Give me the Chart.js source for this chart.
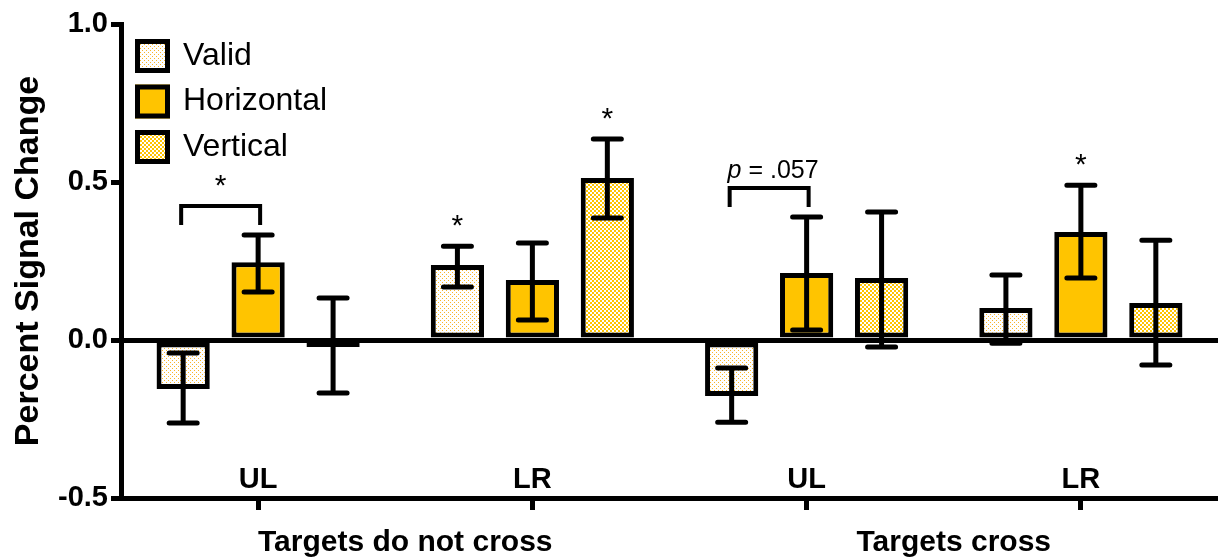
<!DOCTYPE html>
<html>
<head>
<meta charset="utf-8">
<script src="https://cdn.jsdelivr.net/npm/chart.js@4"></script>
<style>
  html, body { margin: 0; padding: 0; background: #fff; }
  #myChart { display: block; }
</style>
</head>
<body>
<canvas id="myChart" width="1218" height="559"></canvas>
<script>
// Data
const groups = ["UL", "LR", "UL", "LR"];
const groupSets = ["Targets do not cross", "Targets cross"];
const seriesNames = ["Valid", "Horizontal", "Vertical"];

const validMean = [-0.155, 0.237, -0.177, 0.101];
const validLow = [-0.263, 0.168, -0.26, -0.01];
const validHigh = [-0.041, 0.297, -0.089, 0.206];

const horizMean = [0.246, 0.19, 0.212, 0.342];
const horizLow = [0.152, 0.063, 0.032, 0.196];
const horizHigh = [0.332, 0.307, 0.389, 0.49];

const vertMean = [-0.022, 0.513, 0.196, 0.117];
const vertLow = [-0.168, 0.386, -0.022, -0.079];
const vertHigh = [0.133, 0.636, 0.405, 0.316];

const yTicks = [-0.5, 0.0, 0.5, 1.0];

// [group, series] that get a star above the error bar
const starMarks = [[1, 0], [1, 2], [3, 1]];
// brackets between Valid and Horizontal: group, label
const bracketGroups = [0, 2];
const bracketLabels = ["*", "p = .057"];

const gold = "#FFC400";
const font = "'Liberation Sans', Arial, sans-serif";
const ctx = document.querySelector("#myChart");

// Fill patterns
function makePattern(kind) {
    const c = document.createElement("canvas");
    const n = kind === "dots" ? 4 : 4;
    c.width = n; c.height = n;
    const g = c.getContext("2d");
    g.fillStyle = "#fff";
    g.fillRect(0, 0, n, n);
    if (kind === "dots") {
        g.fillStyle = "#F8B52A";
        g.fillRect(0, 0, 1, 1);
        g.fillRect(2, 2, 1, 1);
    } else {
        g.fillStyle = gold;
        g.fillRect(0, 0, 2, 2);
        g.fillRect(2, 2, 2, 2);
    }
    return g.createPattern(c, "repeat");
}
const dotFill = makePattern("dots");
const checkFill = makePattern("check");

// Error bars, stars, brackets, labels and legend
const extras = {
    id: "extras",
    afterDatasetsDraw(chart) {
        const c = chart.ctx;
        const y = chart.scales.y;
        const x = chart.scales.x;
        const area = chart.chartArea;

        c.save();
        c.strokeStyle = "#000";
        c.lineWidth = 5;
        c.lineCap = "round";

        // error bars
        chart.data.datasets.forEach((ds, i) => {
            chart.getDatasetMeta(i).data.forEach((bar, j) => {
                const lo = y.getPixelForValue(ds.errLow[j]);
                const hi = y.getPixelForValue(ds.errHigh[j]);
                c.beginPath();
                c.moveTo(bar.x, lo); c.lineTo(bar.x, hi);
                c.moveTo(bar.x - 14, lo); c.lineTo(bar.x + 14, lo);
                c.moveTo(bar.x - 14, hi); c.lineTo(bar.x + 14, hi);
                c.stroke();
            });
        });

        c.fillStyle = "#000";
        c.textAlign = "center";

        // stars
        c.font = "30px " + font;
        starMarks.forEach(([g, s]) => {
            const bar = chart.getDatasetMeta(s).data[g];
            const top = y.getPixelForValue(chart.data.datasets[s].errHigh[g]);
            c.fillText("*", bar.x, top - 11);
        });

        // brackets
        c.lineWidth = 4;
        c.lineCap = "butt";
        bracketGroups.forEach((g, k) => {
            const a = chart.getDatasetMeta(0).data[g];
            const b = chart.getDatasetMeta(1).data[g];
            const top = y.getPixelForValue(chart.data.datasets[1].errHigh[g]) - 29;
            const bottom = top + 19;
            c.beginPath();
            c.moveTo(a.x - 2, bottom); c.lineTo(a.x - 2, top);
            c.lineTo(b.x + 2, top); c.lineTo(b.x + 2, bottom);
            c.stroke();
            const mid = (a.x + b.x) / 2;
            const label = bracketLabels[k];
            if (label === "*") {
                c.font = "30px " + font;
                c.fillText(label, mid, top - 11);
            } else {
                // italic p, rest upright
                const rest = label.slice(1);
                c.font = "25px " + font;
                const wr = c.measureText(rest).width;
                c.font = "italic 25px " + font;
                const wp = c.measureText("p").width;
                const x0 = mid + 4 - (wp + wr) / 2;
                c.textAlign = "left";
                c.fillText("p", x0, top - 10);
                c.font = "25px " + font;
                c.fillText(rest, x0 + wp, top - 10);
                c.textAlign = "center";
            }
        });

        // UL / LR inside the plot
        c.font = "bold 29px " + font;
        groups.forEach((g, i) => {
            c.fillText(g, x.getPixelForValue(i), area.bottom - 10);
        });

        // group captions under the axis
        c.font = "bold 30px " + font;
        groupSets.forEach((t, i) => {
            const mid = (x.getPixelForValue(2 * i) + x.getPixelForValue(2 * i + 1)) / 2;
            c.fillText(t, mid + 10, 551);
        });

        // legend
        const fills = [dotFill, gold, checkFill];
        c.textAlign = "left";
        c.textBaseline = "middle";
        c.font = "32px " + font;
        seriesNames.forEach((name, i) => {
            const bx = area.left + 14;
            const by = area.top + 15 + i * 45.5;
            c.fillStyle = fills[i];
            c.fillRect(bx, by, 35, 34);
            c.lineWidth = 5;
            c.strokeRect(bx + 2.5, by + 2.5, 30, 29);
            c.fillStyle = "#000";
            c.fillText(name, bx + 48, by + 17);
        });
        c.restore();
    }
};

const datasets = [
    { label: "Valid", data: validMean, errLow: validLow, errHigh: validHigh, backgroundColor: dotFill },
    { label: "Horizontal", data: horizMean, errLow: horizLow, errHigh: horizHigh, backgroundColor: gold },
    { label: "Vertical", data: vertMean, errLow: vertLow, errHigh: vertHigh, backgroundColor: checkFill },
].map(d => Object.assign(d, {
    borderColor: "#000",
    borderWidth: 5,
    borderSkipped: false,
    categoryPercentage: 0.82,
    barPercentage: 0.71,
}));

let signalChart = new Chart(ctx, {
    type: "bar",
    data: { labels: groups, datasets: datasets },
    options: {
        responsive: false,
        animation: false,
        devicePixelRatio: 1,
        layout: { padding: { top: 24, right: 0, left: 0, bottom: 0 } },
        plugins: {
            legend: { display: false },
            tooltip: { enabled: false },
        },
        scales: {
            x: {
                grid: {
                    drawOnChartArea: false,
                    offset: false,
                    color: "#000",
                    tickColor: "#000",
                    tickLength: 12,
                    tickWidth: 5,
                },
                border: { color: "#000", width: 5 },
                ticks: { display: false },
                afterFit: s => { s.height = 61; },
            },
            y: {
                min: -0.5,
                max: 1.0,
                afterBuildTicks: s => { s.ticks = yTicks.map(v => ({ value: v })); },
                ticks: {
                    callback: v => v.toFixed(1),
                    color: "#000",
                    padding: 3,
                    font: { family: font, size: 29, weight: "bold" },
                },
                grid: {
                    color: c => (c.tick && c.tick.value === 0 ? "#000" : "rgba(0,0,0,0)"),
                    lineWidth: 5,
                    tickColor: "#000",
                    tickLength: 10,
                    tickWidth: 5,
                },
                border: { color: "#000", width: 5 },
                title: {
                    display: true,
                    text: "Percent Signal Change",
                    color: "#000",
                    padding: { top: 8, bottom: 0 },
                    font: { family: font, size: 34, weight: "bold" },
                },
                afterFit: s => { s.width = 121; },
            },
        },
    },
    plugins: [extras],
});
</script>
</body>
</html>
